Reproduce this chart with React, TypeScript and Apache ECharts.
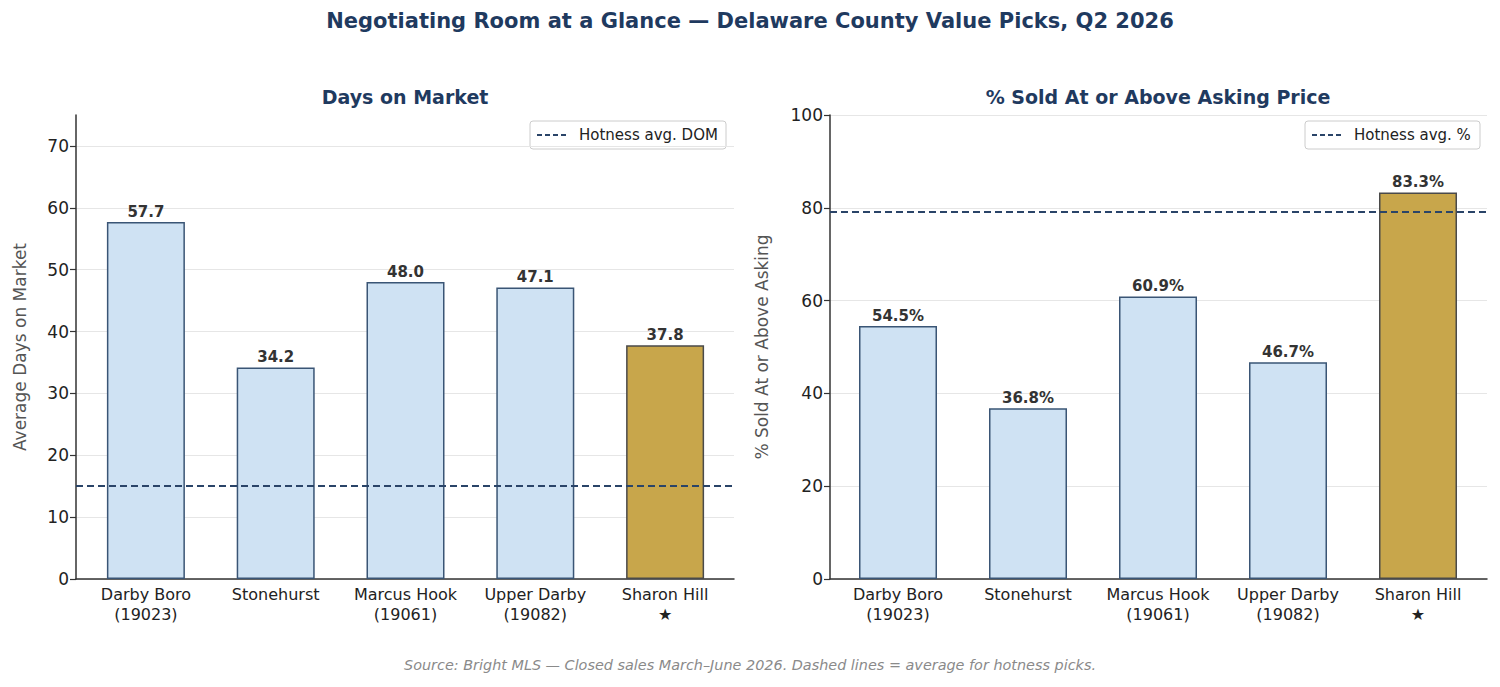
import React, { useEffect, useRef } from "react";
import * as echarts from "echarts";

const categories = ["Darby Boro\n(19023)", "Stonehurst", "Marcus Hook\n(19061)", "Upper Darby\n(19082)", "Sharon Hill\n★"];
const domValues = [57.7, 34.2, 48.0, 47.1, 37.8];
const soldAboveValues = [54.5, 36.8, 60.9, 46.7, 83.3];
const highlightIndex = 4;
const hotnessAvgDom = 15.0;
const hotnessAvgPct = 79.1;
const domTicks = [0, 10, 20, 30, 40, 50, 60, 70];
const pctTicks = [0, 20, 40, 60, 80, 100];

const FONT = "DejaVu Sans";
const NAVY = "#1f3a5f";

export default function App() {
  const ref = useRef<HTMLDivElement>(null);
  useEffect(() => {
    document.body.style.margin = "0";
    const chart = echarts.init(ref.current!, null, { renderer: "svg" });

    const barData = (vals: number[]) =>
      vals.map((v, i) => ({
        value: v,
        itemStyle:
          i === highlightIndex
            ? { color: "#c8a64b", borderColor: "#4a4a4a", borderWidth: 1.5 }
            : { color: "#cfe2f3", borderColor: "#3a5575", borderWidth: 1.5 },
      }));

    const frameX = (gridIndex: number) => ({
      type: "value",
      gridIndex,
      min: 0,
      max: 1,
      axisLine: { show: true, onZero: false, lineStyle: { color: "#333", width: 1.5 } },
      axisTick: { show: false },
      axisLabel: { show: false },
      splitLine: { show: false },
    });
    const catX = (gridIndex: number) => ({
      type: "category",
      gridIndex,
      data: categories,
      axisLine: { show: false },
      axisTick: { show: false },
      axisLabel: { interval: 0, fontFamily: FONT, fontSize: 16, color: "#222", margin: 5, lineHeight: 20 },
    });
    const frameY = (gridIndex: number, max: number, interval: number, ticks: number[], name: string, nameGap: number) => ({
      type: "value",
      gridIndex,
      min: 0,
      max,
      interval,
      name,
      nameLocation: "middle",
      nameGap,
      nameTextStyle: { fontFamily: FONT, fontSize: 17, color: "#555" },
      axisLine: { show: true, lineStyle: { color: "#333", width: 1.5 } },
      axisTick: { show: true, length: 6, lineStyle: { color: "#333", width: 1.2 }, customValues: ticks },
      axisLabel: { fontFamily: FONT, fontSize: 17, color: "#222", margin: 7, customValues: ticks },
      splitLine: { show: true, lineStyle: { color: "#e6e6e6", width: 1 } },
    });
    const hiddenY = (gridIndex: number, max: number) => ({
      type: "value",
      gridIndex,
      min: 0,
      max,
      show: false,
      splitLine: { show: false },
    });

    const labelStyle = (suffix: string) => ({
      show: true,
      position: "top",
      distance: 3,
      fontFamily: FONT,
      fontSize: 15,
      fontWeight: "bold",
      color: "#333",
      formatter: (p: any) => p.value.toFixed(1) + suffix,
    });

    const avgLine = (xi: number, yi: number, value: number) => ({
      type: "line",
      xAxisIndex: xi,
      yAxisIndex: yi,
      data: [],
      z: 5,
      markLine: {
        silent: true,
        symbol: "none",
        label: { show: false },
        lineStyle: { color: "#2a4468", width: 2, type: [7, 4] },
        data: [{ yAxis: value }],
      },
    });

    const legendBox = (x: number, w: number, text: string) => ({
      type: "group",
      children: [
        {
          type: "rect",
          shape: { x, y: 121, width: w, height: 28, r: 3 },
          style: { fill: "#fff", stroke: "#cccccc", lineWidth: 1 },
        },
        {
          type: "line",
          shape: { x1: x + 7, y1: 135, x2: x + 37, y2: 135 },
          style: { stroke: "#2a4468", lineWidth: 2, lineDash: [5, 3] },
        },
        {
          type: "text",
          x: x + 49,
          y: 135,
          style: { text, fill: "#222", font: `15px '${FONT}'`, textVerticalAlign: "middle" },
        },
      ],
    });

    chart.setOption({
      animation: false,
      backgroundColor: "#fff",
      grid: [
        { left: 76, top: 115, width: 658, height: 464 },
        { left: 81, top: 115, width: 649, height: 464 },
        { left: 830, top: 115, width: 657, height: 464 },
        { left: 833, top: 115, width: 650, height: 464 },
      ],
      xAxis: [frameX(0), catX(1), frameX(2), catX(3)],
      yAxis: [
        frameY(0, 75, 10, domTicks, "Average Days on Market", 48),
        hiddenY(1, 75),
        frameY(2, 100, 20, pctTicks, "% Sold At or Above Asking", 60),
        hiddenY(3, 100),
      ],
      series: [
        {
          type: "bar",
          xAxisIndex: 1,
          yAxisIndex: 1,
          barWidth: 78,
          data: barData(domValues),
          label: labelStyle(""),
          z: 2,
        },
        avgLine(0, 0, hotnessAvgDom),
        {
          type: "bar",
          xAxisIndex: 3,
          yAxisIndex: 3,
          barWidth: 78,
          data: barData(soldAboveValues),
          label: labelStyle("%"),
          z: 2,
        },
        avgLine(2, 2, hotnessAvgPct),
      ],
      graphic: [
        {
          type: "text",
          x: 750,
          y: 21,
          style: {
            text: "Negotiating Room at a Glance — Delaware County Value Picks, Q2 2026",
            fill: NAVY,
            font: `bold 21px '${FONT}'`,
            textAlign: "center",
            textVerticalAlign: "middle",
          },
        },
        {
          type: "text",
          x: 405,
          y: 97,
          style: { text: "Days on Market", fill: NAVY, font: `bold 19px '${FONT}'`, textAlign: "center", textVerticalAlign: "middle" },
        },
        {
          type: "text",
          x: 1158,
          y: 97,
          style: { text: "% Sold At or Above Asking Price", fill: NAVY, font: `bold 19px '${FONT}'`, textAlign: "center", textVerticalAlign: "middle" },
        },
        legendBox(530, 196, "Hotness avg. DOM"),
        legendBox(1305, 175, "Hotness avg. %"),
        {
          type: "text",
          x: 750,
          y: 665,
          style: {
            text: "Source: Bright MLS — Closed sales March–June 2026. Dashed lines = average for hotness picks.",
            fill: "#8a8a8a",
            font: `italic 14.4px '${FONT}'`,
            textAlign: "center",
            textVerticalAlign: "middle",
          },
        },
      ],
    });
    return () => chart.dispose();
  }, []);
  return <div ref={ref} style={{ width: 1500, height: 687 }} />;
}
